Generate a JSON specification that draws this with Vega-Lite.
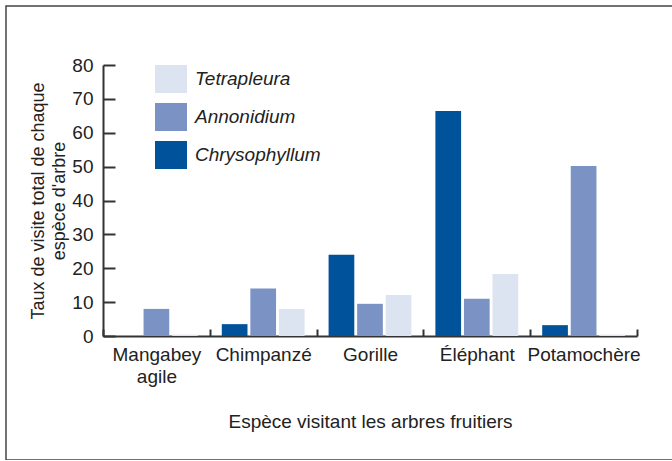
{
  "$schema": "https://vega.github.io/schema/vega-lite/v6.json",
  "width": 670,
  "height": 454,
  "autosize": {"type": "none"},
  "padding": {"left": 6, "top": 6, "right": 0, "bottom": 0},
  "background": "white",
  "config": {
    "font": "Liberation Sans",
    "view": {"stroke": "#444", "strokeWidth": 1.5},
    "axis": {"grid": false}
  },
  "data": {
    "values": [
      {"espece": "Mangabey agile", "arbre": "Chrysophyllum", "taux": 0},
      {"espece": "Mangabey agile", "arbre": "Annonidium", "taux": 8},
      {"espece": "Mangabey agile", "arbre": "Tetrapleura", "taux": 0.4},
      {"espece": "Chimpanzé", "arbre": "Chrysophyllum", "taux": 3.5},
      {"espece": "Chimpanzé", "arbre": "Annonidium", "taux": 14},
      {"espece": "Chimpanzé", "arbre": "Tetrapleura", "taux": 8},
      {"espece": "Gorille", "arbre": "Chrysophyllum", "taux": 24},
      {"espece": "Gorille", "arbre": "Annonidium", "taux": 9.5},
      {"espece": "Gorille", "arbre": "Tetrapleura", "taux": 12.1},
      {"espece": "Éléphant", "arbre": "Chrysophyllum", "taux": 66.4},
      {"espece": "Éléphant", "arbre": "Annonidium", "taux": 11},
      {"espece": "Éléphant", "arbre": "Tetrapleura", "taux": 18.3},
      {"espece": "Potamochère", "arbre": "Chrysophyllum", "taux": 3.2},
      {"espece": "Potamochère", "arbre": "Annonidium", "taux": 50.2},
      {"espece": "Potamochère", "arbre": "Tetrapleura", "taux": 0.4}
    ]
  },
  "mark": {"type": "bar"},
  "encoding": {
    "x": {
      "field": "espece",
      "type": "nominal",
      "sort": ["Mangabey agile", "Chimpanzé", "Gorille", "Éléphant", "Potamochère"],
      "scale": {"range": [97, 631], "paddingInner": 0, "paddingOuter": 0},
      "axis": {
        "title": "Espèce visitant les arbres fruitiers",
        "offset": -124,
        "tickBand": "extent",
        "tickSize": -7,
        "tickColor": "#333",
        "tickWidth": 2,
        "domainColor": "#333",
        "domainWidth": 2,
        "labelAngle": 0,
        "labelFontSize": 19,
        "labelColor": "#222",
        "labelPadding": 16,
        "labelLineHeight": 22,
        "labelLimit": 0,
        "labelExpr": "datum.label == 'Mangabey agile' ? ['Mangabey', 'agile'] : datum.label",
        "titleFontSize": 19,
        "titleFontWeight": "normal",
        "titleColor": "#222",
        "titlePadding": 26
      }
    },
    "xOffset": {
      "field": "arbre",
      "type": "nominal",
      "scale": {"domain": ["Chrysophyllum", "Annonidium", "Tetrapleura"], "paddingInner": 0.1, "paddingOuter": 0.42}
    },
    "y": {
      "field": "taux",
      "type": "quantitative",
      "scale": {"domain": [0, 80], "range": [330, 59], "nice": false},
      "axis": {
        "title": ["Taux de visite total de chaque", "espèce d'arbre"],
        "offset": -97,
        "values": [0, 10, 20, 30, 40, 50, 60, 70, 80],
        "tickSize": -12,
        "tickColor": "#333",
        "tickWidth": 2,
        "domainColor": "#333",
        "domainWidth": 2,
        "labelFontSize": 19,
        "labelColor": "#222",
        "labelPadding": 22,
        "titleFontSize": 18,
        "titleFontWeight": "normal",
        "titleColor": "#222",
        "titleLineHeight": 21,
        "titlePadding": 3
      }
    },
    "color": {
      "field": "arbre",
      "type": "nominal",
      "scale": {"domain": ["Tetrapleura", "Annonidium", "Chrysophyllum"], "range": ["#dce3f1", "#7b93c4", "#00529b"]},
      "legend": {
        "title": null,
        "orient": "none",
        "legendX": 149,
        "legendY": 57,
        "symbolType": "M-1,-0.875H1V0.875H-1Z",
        "symbolSize": 1024,
        "symbolStrokeWidth": 0,
        "symbolOpacity": 1,
        "labelFontSize": 19,
        "labelFontStyle": "italic",
        "labelColor": "#222",
        "labelOffset": 8,
        "rowPadding": 8
      }
    }
  }
}
